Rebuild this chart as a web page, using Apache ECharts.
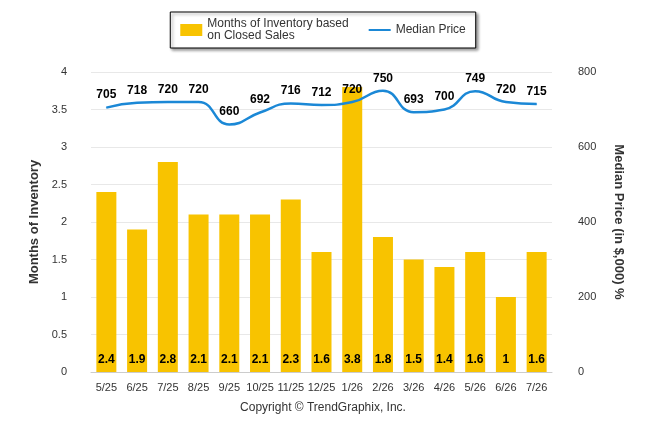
<!DOCTYPE html>
<html><head><meta charset="utf-8">
<script src="https://cdn.jsdelivr.net/npm/echarts@6/dist/echarts.min.js"></script>
<style>html,body{margin:0;padding:0;background:#fff}#c{width:646px;height:434px}</style>
</head><body><div id="c"></div>
<script>
const categories=["5/25","6/25","7/25","8/25","9/25","10/25","11/25","12/25","1/26","2/26","3/26","4/26","5/26","6/26","7/26"];
const inventory=[2.4,1.9,2.8,2.1,2.1,2.1,2.3,1.6,3.8,1.8,1.5,1.4,1.6,1,1.6];
const price=[705,718,720,720,660,692,716,712,720,750,693,700,749,720,715];
const chart=echarts.init(document.getElementById('c'));
const f='Arial, "Liberation Sans", sans-serif';
chart.setOption({
  animation:false,
  textStyle:{fontFamily:f},
  legend:{top:12,left:'center',itemGap:20,padding:[6,10],borderColor:'#000',borderWidth:1,
    shadowColor:'rgba(0,0,0,0.4)',shadowBlur:3,shadowOffsetX:2,shadowOffsetY:2,backgroundColor:'#fff',
    textStyle:{fontSize:12,color:'#333',fontFamily:f},itemWidth:22,itemHeight:12,
    data:[{name:'Months of Inventory based\non Closed Sales',icon:'rect'},{name:'Median Price',icon:'path://M0 5H22V7H0Z'}]},
  grid:{left:91,right:94,top:72,bottom:62},
  xAxis:{type:'category',data:categories,axisTick:{show:false},axisLine:{lineStyle:{color:'#ccc'}},
    axisLabel:{color:'#333',fontSize:11,interval:0,margin:10}},
  yAxis:[{type:'value',min:0,max:4,interval:0.5,name:'Months of Inventory',nameLocation:'middle',nameGap:48,
    nameTextStyle:{fontWeight:'bold',fontSize:13,color:'#333'},axisLabel:{color:'#333',fontSize:11,margin:24},
    splitLine:{lineStyle:{color:'#e8e8e8'}}},
   {type:'value',min:0,max:800,interval:200,name:'Median Price (in $,000) %',nameLocation:'middle',nameGap:60,nameRotate:-90,
    nameTextStyle:{fontWeight:'bold',fontSize:13,color:'#333'},axisLabel:{color:'#333',fontSize:11,margin:26},splitLine:{show:false}}],
  series:[
   {name:'Months of Inventory based\non Closed Sales',type:'bar',data:inventory,barWidth:20,itemStyle:{color:'#F8C300'},
    label:{show:true,position:'insideBottom',distance:6,fontWeight:'bold',fontSize:12,color:'#000'}},
   {name:'Median Price',type:'line',yAxisIndex:1,data:price,smooth:true,symbol:'circle',symbolSize:1,showSymbol:true,lineStyle:{color:'#1B88D6',width:2.5},
    itemStyle:{color:'#1B88D6'},label:{show:true,position:'top',distance:6,fontWeight:'bold',fontSize:12,color:'#000'}}
  ],
  graphic:[{type:'text',left:'center',top:402,style:{text:'Copyright © TrendGraphix, Inc.',fontSize:12,fill:'#333',fontFamily:f}}]
});
</script></body></html>
